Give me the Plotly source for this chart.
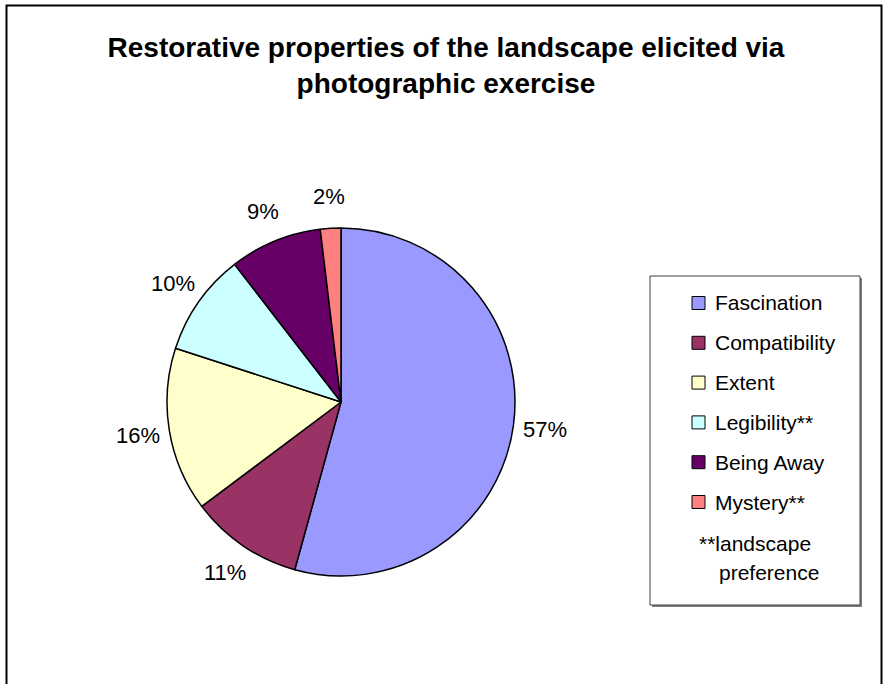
import math
import plotly.graph_objects as go

# ---- data ----
categories = ["Fascination", "Compatibility", "Extent", "Legibility**", "Being Away", "Mystery**"]
values = [57, 11, 16, 10, 9, 2]
label_suffix = "%"
colors = ["#9999FF", "#993366", "#FFFFCC", "#CCFFFF", "#660066", "#FF8080"]
title_text = "Restorative properties of the landscape elicited via<br>photographic exercise"
note_lines = ["**landscape", "preference"]

W, H = 884, 684
FONT = "Liberation Sans, Arial, sans-serif"

# pie geometry (pixels)
CX, CY, R = 341, 402, 174


def px(x):
    return x / W


def py(y):
    return 1 - y / H


fig = go.Figure()
fig.add_trace(go.Pie(
    labels=categories,
    values=values,
    sort=False,
    direction="clockwise",
    rotation=0,
    marker=dict(colors=colors, line=dict(color="#000000", width=1.5)),
    textinfo="none",
    hoverinfo="label+value",
    showlegend=False,
    domain=dict(x=[px(CX - R), px(CX + R)], y=[py(CY + R), py(CY - R)]),
))

annotations = []
shapes = []

# slice labels placed outside the pie at each slice's mid-angle
total = sum(values)
cum = 0.0
LABEL_D = 206
for v in values:
    mid = (cum + v / 2) / total * 2 * math.pi
    cum += v
    lx = CX + LABEL_D * math.sin(mid)
    ly = CY - LABEL_D * math.cos(mid)
    annotations.append(dict(
        x=px(lx), y=py(ly), xref="paper", yref="paper",
        text=f"{v}{label_suffix}", showarrow=False,
        xanchor="center", yanchor="middle",
        font=dict(family=FONT, size=22, color="#000000"),
    ))

# legend box with shadow
BX0, BY0, BX1, BY1 = 650, 276, 860, 605
shapes.append(dict(type="rect", xref="paper", yref="paper",
                   x0=px(BX0 + 2), x1=px(BX1 + 2), y0=py(BY1 + 2), y1=py(BY0 + 2),
                   fillcolor="#808080", line=dict(width=0), layer="below"))
shapes.append(dict(type="rect", xref="paper", yref="paper",
                   x0=px(BX0), x1=px(BX1), y0=py(BY1), y1=py(BY0),
                   fillcolor="#FFFFFF", line=dict(color="#404040", width=1), layer="below"))

ITEM_Y0, ITEM_STEP = 303, 39.8
for i, (cat, col) in enumerate(zip(categories, colors)):
    yc = ITEM_Y0 + i * ITEM_STEP
    shapes.append(dict(type="rect", xref="paper", yref="paper",
                       x0=px(692), x1=px(705), y0=py(yc + 6.5), y1=py(yc - 6.5),
                       fillcolor=col, line=dict(color="#000000", width=1)))
    annotations.append(dict(
        x=px(713), y=py(yc), xref="paper", yref="paper",
        text=cat, showarrow=False, xanchor="left", yanchor="middle",
        font=dict(family=FONT, size=21, color="#000000"),
    ))

annotations.append(dict(x=px(697), y=py(543), xref="paper", yref="paper",
                        text=note_lines[0], showarrow=False, xanchor="left", yanchor="middle",
                        font=dict(family=FONT, size=21, color="#000000")))
annotations.append(dict(x=px(717), y=py(572), xref="paper", yref="paper",
                        text=note_lines[1], showarrow=False, xanchor="left", yanchor="middle",
                        font=dict(family=FONT, size=21, color="#000000")))

# outer chart frame
shapes.append(dict(type="rect", xref="paper", yref="paper",
                   x0=px(6.5), x1=px(881.5), y0=-0.05, y1=py(5.5),
                   line=dict(color="#000000", width=2), fillcolor="rgba(0,0,0,0)"))

fig.update_layout(
    width=W, height=H,
    margin=dict(l=0, r=0, t=0, b=0),
    paper_bgcolor="#FFFFFF",
    plot_bgcolor="#FFFFFF",
    title=dict(text=title_text, x=px(446), xanchor="center",
               y=py(57), yanchor="middle", yref="container",
               font=dict(family=FONT, size=28, color="#000000", weight="bold")),
    annotations=annotations,
    shapes=shapes,
    showlegend=False,
)

fig.write_html("out.html")
